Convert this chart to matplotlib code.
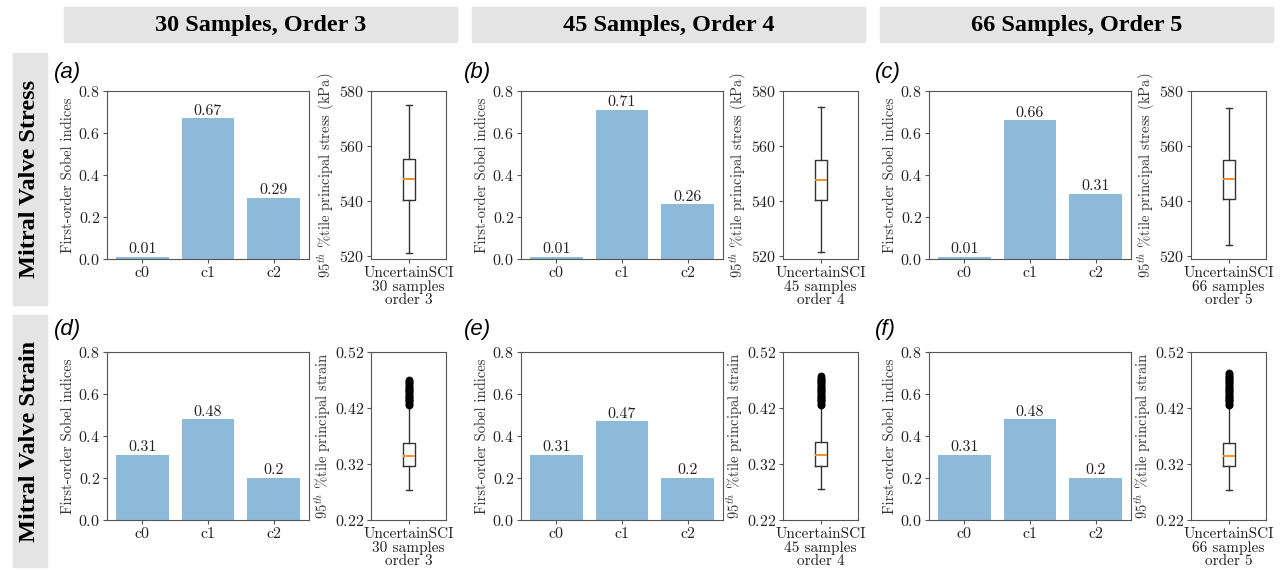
import matplotlib
matplotlib.use("Agg")
import matplotlib.pyplot as plt
from matplotlib.patches import Rectangle

plt.rcParams['font.family'] = 'serif'
plt.rcParams['font.serif'] = ['cmr10']
plt.rcParams['mathtext.fontset'] = 'cm'
plt.rcParams['axes.formatter.use_mathtext'] = True
plt.rcParams['axes.edgecolor'] = '#555555'
plt.rcParams['xtick.color'] = '#555555'
plt.rcParams['ytick.color'] = '#555555'
plt.rcParams['xtick.labelcolor'] = '#222222'
plt.rcParams['ytick.labelcolor'] = '#222222'
plt.rcParams['xtick.major.size'] = 3
plt.rcParams['ytick.major.size'] = 3
plt.rcParams['xtick.major.pad'] = 2.5
plt.rcParams['ytick.major.pad'] = 2

# ---------------- data ----------------
col_titles = ["30 Samples, Order 3", "45 Samples, Order 4", "66 Samples, Order 5"]
row_titles = ["Mitral Valve Stress", "Mitral Valve Strain"]
panel_tags = [["(a)", "(b)", "(c)"], ["(d)", "(e)", "(f)"]]
params = ["c0", "c1", "c2"]
box_names = ["UncertainSCI\n30 samples\norder 3",
             "UncertainSCI\n45 samples\norder 4",
             "UncertainSCI\n66 samples\norder 5"]

# first-order Sobel indices
sobel_stress = [[0.01, 0.67, 0.29], [0.01, 0.71, 0.26], [0.01, 0.66, 0.31]]
sobel_strain = [[0.31, 0.48, 0.2], [0.31, 0.47, 0.2], [0.31, 0.48, 0.2]]

# boxplot stats, 95th percentile principal stress (kPa)
stress_low = [521.0, 521.4, 524.2]
stress_q1 = [540.6, 540.6, 540.7]
stress_med = [548.0, 547.7, 548.0]
stress_q3 = [555.2, 554.8, 555.1]
stress_high = [574.9, 574.2, 574.0]

# boxplot stats, 95th percentile principal strain
strain_low = [0.274, 0.276, 0.273]
strain_q1 = [0.316, 0.317, 0.316]
strain_med = [0.335, 0.336, 0.335]
strain_q3 = [0.358, 0.360, 0.358]
strain_high = [0.423, 0.423, 0.423]
strain_fliers = [
    [0.426, 0.428, 0.430, 0.432, 0.434, 0.436, 0.438, 0.440, 0.442, 0.444,
     0.446, 0.448, 0.450, 0.452, 0.454, 0.456, 0.458, 0.460, 0.462, 0.464,
     0.466, 0.468, 0.470],
    [0.426, 0.428, 0.430, 0.432, 0.434, 0.436, 0.438, 0.440, 0.442, 0.444,
     0.446, 0.448, 0.450, 0.452, 0.454, 0.456, 0.458, 0.460, 0.462, 0.464,
     0.466, 0.468, 0.470, 0.472, 0.474, 0.477],
    [0.426, 0.428, 0.430, 0.432, 0.434, 0.436, 0.438, 0.440, 0.442, 0.444,
     0.446, 0.448, 0.450, 0.452, 0.454, 0.456, 0.458, 0.460, 0.462, 0.464,
     0.466, 0.468, 0.470, 0.472, 0.474, 0.476, 0.478, 0.480, 0.482],
]

# ---------------- layout (pixels) ----------------
W, H = 1280, 571
fig = plt.figure(figsize=(W / 100, H / 100), dpi=100)

def px_axes(left, top, width, height):
    return fig.add_axes([left / W, 1 - (top + height) / H, width / W, height / H])

bar_left = [107, 521, 929]
box_left = [371, 783, 1191]
row_top = [91, 352]
tag_x = [54, 464, 875]
tag_y = [72, 330]
header_x = [64, 472, 880]
row_box_y = [(53, 305), (315, 567)]
gray = '#e4e4e4'

# column headers
for j, title in enumerate(col_titles):
    x0 = header_x[j]
    x1 = min(x0 + 393, W)
    fig.patches.append(Rectangle((x0 / W, 1 - 42 / H), (x1 - x0) / W, 35 / H,
                                 transform=fig.transFigure, color=gray, zorder=0))
    fig.text((x0 + x1) / 2 / W, 1 - 25 / H, title, ha='center', va='center',
             family='Liberation Serif', weight='bold', fontsize=17.5, color='black')

# row labels
for i, title in enumerate(row_titles):
    y0, y1 = row_box_y[i]
    fig.patches.append(Rectangle((13 / W, 1 - y1 / H), 34 / W, (y1 - y0) / H,
                                 transform=fig.transFigure, color=gray, zorder=0))
    fig.text(30 / W, 1 - (y0 + y1) / 2 / H, title, ha='center', va='center',
             rotation=90, family='Liberation Serif', weight='bold', fontsize=17.5,
             color='black')

for i in range(2):
    for j in range(3):
        # panel tag
        fig.text(tag_x[j] / W, 1 - tag_y[i] / H, panel_tags[i][j], ha='left',
                 va='center', family='Liberation Sans', style='italic',
                 fontsize=16, color='black')

        # Sobel bars
        ax = px_axes(bar_left[j], row_top[i], 202, 168)
        vals = sobel_stress[j] if i == 0 else sobel_strain[j]
        bars = ax.bar(params, vals, color='#1f77b4', alpha=0.5)
        ax.bar_label(bars, labels=[str(v) for v in vals], padding=0.5,
                     fontsize=11.5, color='#222222')
        ax.set_ylim(0, 0.8)
        ax.set_yticks([0.0, 0.2, 0.4, 0.6, 0.8])
        ax.set_ylabel("First-order Sobel indices", fontsize=10.5,
                      color='#333333', labelpad=2.5)
        ax.tick_params(labelsize=11.5)

        # boxplot
        bx = px_axes(box_left[j], row_top[i], 75, 168)
        if i == 0:
            st = dict(whislo=stress_low[j], q1=stress_q1[j], med=stress_med[j],
                      q3=stress_q3[j], whishi=stress_high[j], fliers=[],
                      label=box_names[j])
        else:
            st = dict(whislo=strain_low[j], q1=strain_q1[j], med=strain_med[j],
                      q3=strain_q3[j], whishi=strain_high[j],
                      fliers=strain_fliers[j], label=box_names[j])
        bx.bxp([st], widths=0.16,
               boxprops=dict(color='#333333', linewidth=1),
               whiskerprops=dict(color='#333333', linewidth=1),
               capprops=dict(color='#333333', linewidth=1),
               medianprops=dict(color='#ff8c2a', linewidth=1.4),
               flierprops=dict(marker='o', markerfacecolor='black',
                               markeredgecolor='black', markersize=4.6))
        bx.set_xlim(0.5, 1.5)
        if i == 0:
            bx.set_ylim(519, 580)
            bx.set_yticks([520, 540, 560, 580])
            bx.set_ylabel(r"$95^{th}$ %tile principal stress (kPa)",
                          fontsize=10.5, color='#333333', labelpad=1)
        else:
            bx.set_ylim(0.22, 0.52)
            bx.set_yticks([0.22, 0.32, 0.42, 0.52])
            bx.set_ylabel(r"$95^{th}$ %tile principal strain",
                          fontsize=10.5, color='#333333', labelpad=1)
        bx.tick_params(axis='y', labelsize=11.5)
        bx.tick_params(axis='x', labelsize=11)
        for lab in bx.get_xticklabels():
            lab.set_linespacing(0.95)

fig.savefig("out.png", dpi=100)
